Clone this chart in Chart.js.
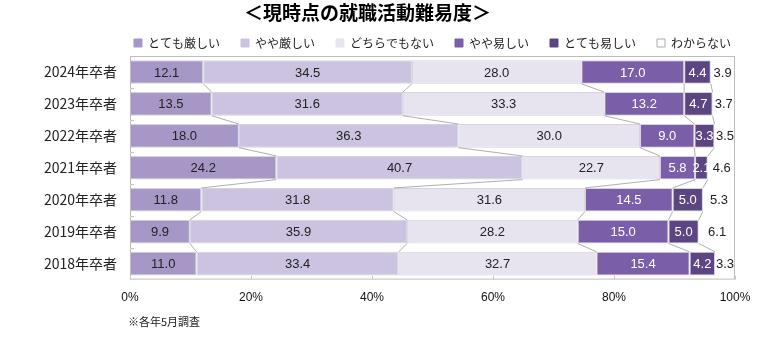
<!DOCTYPE html>
<html lang="ja">
<head>
<meta charset="utf-8">
<script src="https://cdn.jsdelivr.net/npm/chart.js@4.4.1/dist/chart.umd.min.js"></script>
<style>
  html, body { margin: 0; padding: 0; background: #fff; }
  #wrap { width: 781px; height: 337px; }
</style>
</head>
<body>
<div id="wrap"><canvas id="chart"></canvas></div>
<script>
// 卒業年ごとの就職活動難易度(%)
const years = ['2024年卒者', '2023年卒者', '2022年卒者', '2021年卒者', '2020年卒者', '2019年卒者', '2018年卒者'];
const seriesNames = ['とても厳しい', 'やや厳しい', 'どちらでもない', 'やや易しい', 'とても易しい', 'わからない'];
const veryHard   = [12.1, 13.5, 18.0, 24.2, 11.8,  9.9, 11.0];
const ratherHard = [34.5, 31.6, 36.3, 40.7, 31.8, 35.9, 33.4];
const neither    = [28.0, 33.3, 30.0, 22.7, 31.6, 28.2, 32.7];
const ratherEasy = [17.0, 13.2,  9.0,  5.8, 14.5, 15.0, 15.4];
const veryEasy   = [ 4.4,  4.7,  3.3,  2.1,  5.0,  5.0,  4.2];
const unknown    = [ 3.9,  3.7,  3.5,  4.6,  5.3,  6.1,  3.3];
const xTicks = [0, 20, 40, 60, 80, 100];
const note = '※各年5月調査';

const colors = ['#a697c6', '#cbc3df', '#e7e4f0', '#7b5ea8', '#5b4682', '#ffffff'];
const textColors = ['#222', '#222', '#222', '#fff', '#fff', '#222'];
const values = [veryHard, ratherHard, neither, ratherEasy, veryEasy, unknown];

const JP = '"Noto Sans CJK JP", "Noto Sans", sans-serif';
const NUM = '"Liberation Sans", Arial, sans-serif';

// 棒と棒の間をつなぐ区分線
const seriesLines = {
  id: 'seriesLines',
  afterDatasetsDraw(chart) {
    const ctx = chart.ctx;
    ctx.save();
    ctx.strokeStyle = '#9a9a9a';
    ctx.lineWidth = 0.8;
    for (let d = 0; d < values.length - 1; d++) {
      const els = chart.getDatasetMeta(d).data;
      for (let j = 0; j < els.length - 1; j++) {
        const a = els[j], b = els[j + 1];
        ctx.beginPath();
        ctx.moveTo(a.x, a.y + a.height / 2);
        ctx.lineTo(b.x, b.y - b.height / 2);
        ctx.stroke();
      }
    }
    ctx.restore();
  }
};

// 各区分の数値ラベル
const valueLabels = {
  id: 'valueLabels',
  afterDatasetsDraw(chart) {
    const ctx = chart.ctx;
    ctx.save();
    ctx.font = '13px ' + NUM;
    ctx.textAlign = 'center';
    ctx.textBaseline = 'middle';
    chart.data.datasets.forEach((ds, d) => {
      chart.getDatasetMeta(d).data.forEach((el, j) => {
        ctx.fillStyle = textColors[d];
        ctx.fillText(ds.data[j].toFixed(1), (el.x + el.base) / 2, el.y + 1);
      });
    });
    ctx.restore();
  }
};

// 枠線・目盛り・注記
const frame = {
  id: 'frame',
  afterDraw(chart) {
    const ctx = chart.ctx;
    const a = chart.chartArea;
    const xs = chart.scales.x, ys = chart.scales.y;
    ctx.save();
    ctx.strokeStyle = '#bdbdbd';
    ctx.lineWidth = 1;
    ctx.strokeRect(a.left + 0.5, a.top + 0.5, a.width - 1, a.height - 1);
    ctx.strokeStyle = '#c8c8c8';
    ctx.beginPath();
    xTicks.forEach(v => {
      const px = Math.round(xs.getPixelForValue(v)) + 0.5;
      ctx.moveTo(px, a.bottom);
      ctx.lineTo(px, a.bottom - 4);
    });
    for (let i = 0; i < years.length - 1; i++) {
      const py = Math.round((ys.getPixelForValue(i) + ys.getPixelForValue(i + 1)) / 2) + 0.5;
      ctx.moveTo(a.left, py);
      ctx.lineTo(a.left + 4, py);
    }
    ctx.stroke();
    ctx.fillStyle = '#222';
    ctx.font = '11px ' + JP;
    ctx.textAlign = 'left';
    ctx.textBaseline = 'middle';
    ctx.fillText(note, a.left - 2, 322);
    ctx.restore();
  }
};

// 凡例の高さを詰め、プロット領域の中央にそろえる
const legendTweak = {
  id: 'legendTweak',
  afterInit(chart) {
    const lg = chart.legend;
    if (!lg || lg._tweaked) return;
    const fit = lg.fit;
    lg.fit = function () {
      fit.call(this);
      this.height -= 9;
    };
    lg._tweaked = true;
  },
  afterLayout(chart) {
    const lg = chart.legend;
    lg.left = chart.chartArea.left - 30;
    lg.right = chart.chartArea.right + 30;
    lg.top -= 6;
    lg.bottom -= 6;
  }
};

new Chart(document.getElementById('chart'), {
  type: 'bar',
  data: {
    labels: years,
    datasets: values.map((v, i) => ({
      label: seriesNames[i],
      data: v,
      backgroundColor: colors[i],
      borderColor: i === 5 ? 'rgba(0,0,0,0)' : 'rgba(185,180,205,0.6)',
      borderWidth: i === 5 ? 0 : 1,
      borderSkipped: false,
      barPercentage: 0.74,
      categoryPercentage: 1
    }))
  },
  options: {
    indexAxis: 'y',
    responsive: true,
    maintainAspectRatio: false,
    animation: false,
    layout: { padding: { left: 0, right: 46, top: 0, bottom: 21 } },
    plugins: {
      title: {
        display: true,
        text: '＜現時点の就職活動難易度＞',
        color: '#000',
        font: { family: JP, size: 19, weight: 'bold', lineHeight: 1 },
        padding: { top: 3, bottom: 0 }
      },
      legend: {
        position: 'top',
        labels: {
          color: '#222',
          font: { family: JP, size: 12 },
          boxWidth: 8,
          boxHeight: 8,
          padding: 21,
          generateLabels(chart) {
            const items = Chart.defaults.plugins.legend.labels.generateLabels(chart);
            items.forEach((it, i) => {
              it.lineWidth = 1;
              it.strokeStyle = i === 5 ? '#aaa' : colors[i];
            });
            return items;
          }
        }
      },
      tooltip: { enabled: false }
    },
    scales: {
      x: {
        stacked: true,
        min: 0,
        max: 100,
        afterBuildTicks(scale) {
          scale.ticks = xTicks.map(v => ({ value: v }));
        },
        grid: { display: false, drawTicks: false },
        border: { display: false },
        ticks: {
          color: '#111',
          font: { family: NUM, size: 12 },
          padding: 11,
          callback: v => v + '%'
        }
      },
      y: {
        stacked: true,
        afterFit(scale) { scale.width = 130; },
        grid: { display: false, drawTicks: false },
        border: { display: false },
        ticks: {
          color: '#222',
          font: { family: JP, size: 14 },
          padding: 13
        }
      }
    }
  },
  plugins: [seriesLines, valueLabels, frame, legendTweak]
});
</script>
</body>
</html>
